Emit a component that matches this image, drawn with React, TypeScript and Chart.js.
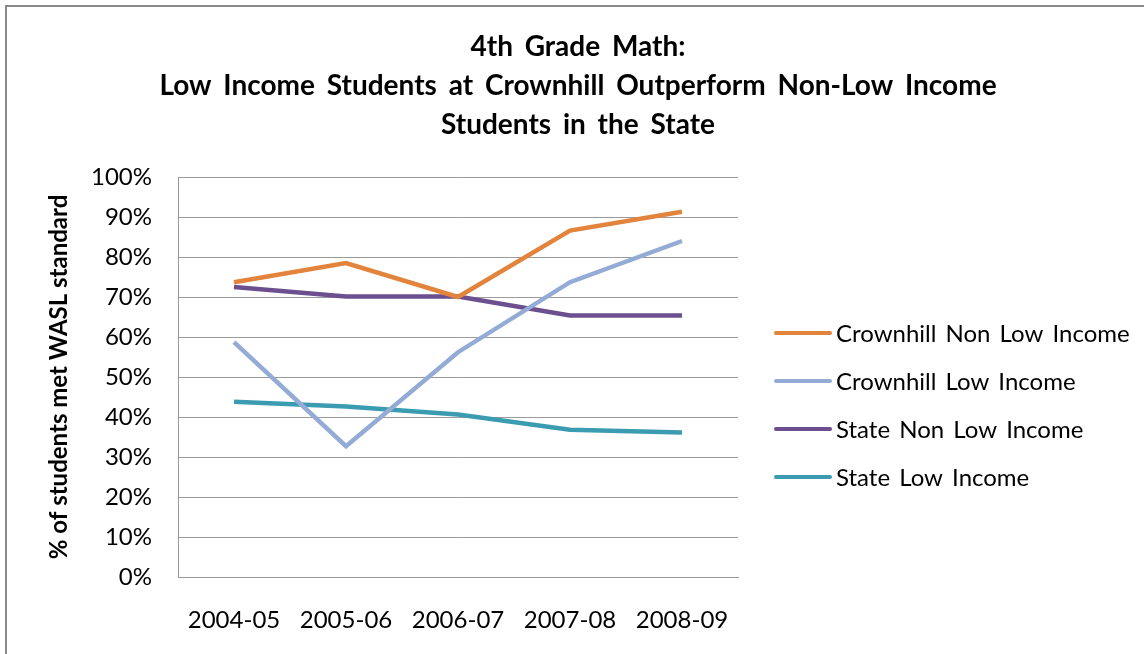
import React, { useEffect, useRef } from "react";
import { Chart, registerables } from "chart.js";

Chart.register(...registerables);

const years = ["2004-05", "2005-06", "2006-07", "2007-08", "2008-09"];
const crownhillNonLow = [73.7, 78.5, 70.0, 86.6, 91.3];
const crownhillLow = [58.7, 32.7, 56.2, 73.7, 84.0];
const stateNonLow = [72.5, 70.1, 70.1, 65.4, 65.4];
const stateLow = [43.8, 42.6, 40.6, 36.8, 36.1];
const titleLines = [
  "4th Grade Math:",
  "Low Income Students at Crownhill Outperform Non-Low Income",
  "Students in the State",
];
const yAxisTitle = "% of students met WASL standard";

const FONT = "Lato, 'Open Sans', sans-serif";

const titlePlugin = {
  id: "customTitle",
  afterDraw(chart: any) {
    const { ctx } = chart;
    ctx.save();
    ctx.fillStyle = "#000";
    ctx.font = `bold 28px ${FONT}`;
    ctx.textAlign = "center";
    ctx.textBaseline = "middle";
    (ctx as any).wordSpacing = "5px";
    const cx = chart.width / 2 + 6;
    titleLines.forEach((line, i) => {
      ctx.fillText(line, cx, 47 + i * 39);
    });
    ctx.restore();
  },
};

const legendPlugin = {
  id: "customLegend",
  afterDraw(chart: any) {
    const { ctx, chartArea } = chart;
    const x0 = chartArea.right + 38;
    const y0 = chartArea.top + 156;
    ctx.save();
    chart.data.datasets.forEach((ds: any, i: number) => {
      const y = y0 + i * 48;
      ctx.strokeStyle = ds.borderColor;
      ctx.lineWidth = 4;
      ctx.lineCap = "round";
      ctx.beginPath();
      ctx.moveTo(x0, y);
      ctx.lineTo(x0 + 54, y);
      ctx.stroke();
      ctx.fillStyle = "#000";
      ctx.font = `24px ${FONT}`;
      (ctx as any).wordSpacing = "3px";
      ctx.textBaseline = "middle";
      ctx.textAlign = "left";
      ctx.fillText(ds.label, x0 + 60, y + 1);
    });
    ctx.restore();
  },
};

export default function App() {
  const ref = useRef<HTMLCanvasElement | null>(null);
  useEffect(() => {
    if (!ref.current) return;
    const mk = (label: string, data: number[], color: string) => ({
      label,
      data,
      borderColor: color,
      backgroundColor: color,
      borderWidth: 4.5,
      pointRadius: 0,
      tension: 0,
      fill: false,
    });
    const chart = new Chart(ref.current, {
      type: "line",
      data: {
        labels: years,
        datasets: [
          mk("Crownhill Non Low Income", crownhillNonLow, "#E2843C"),
          mk("Crownhill Low Income", crownhillLow, "#94ACD5"),
          mk("State Non Low Income", stateNonLow, "#6B4F8E"),
          mk("State Low Income", stateLow, "#3A9BB1"),
        ],
      },
      options: {
        animation: false,
        responsive: false,
        maintainAspectRatio: false,
        layout: { padding: { left: 0, right: 406, top: 177, bottom: 19 } },
        plugins: {
          legend: { display: false },
          tooltip: { enabled: false },
          title: { display: false },
        },
        scales: {
          x: {
            offset: true,
            grid: { display: false, drawTicks: false },
            border: { display: true, color: "#999", width: 1 },
            ticks: { color: "#000", padding: 29, maxRotation: 0, font: { family: FONT, size: 24 } },
            afterFit: (s: any) => {
              s.height = 58;
            },
          },
          y: {
            min: 0,
            max: 100,
            grid: { color: "#9a9a9a", lineWidth: 1, drawTicks: false },
            border: { display: true, color: "#999", width: 1 },
            ticks: {
              stepSize: 10,
              padding: 26,
              color: "#000",
              font: { family: FONT, size: 24 },
              callback: (v: any) => `${v}%`,
            },
            title: {
              display: true,
              text: yAxisTitle,
              color: "#000",
              font: { family: FONT, size: 24, weight: "bold" },
              padding: { top: 45, bottom: 10 },
            },
            afterFit: (s: any) => {
              s.width = 178;
            },
          },
        },
      },
      plugins: [titlePlugin, legendPlugin],
    });
    return () => chart.destroy();
  }, []);

  return (
    <div style={{ position: "fixed", left: 0, top: 0, width: 1144, height: 654, background: "#fff", overflow: "hidden" }}>
      <div
        style={{
          position: "absolute",
          left: 5,
          top: 5,
          width: 1200,
          height: 700,
          border: "2px solid #8a8a8a",
        }}
      />
      <canvas ref={ref} width={1144} height={654} style={{ position: "absolute", left: 0, top: 0, width: 1144, height: 654 }} />
    </div>
  );
}
